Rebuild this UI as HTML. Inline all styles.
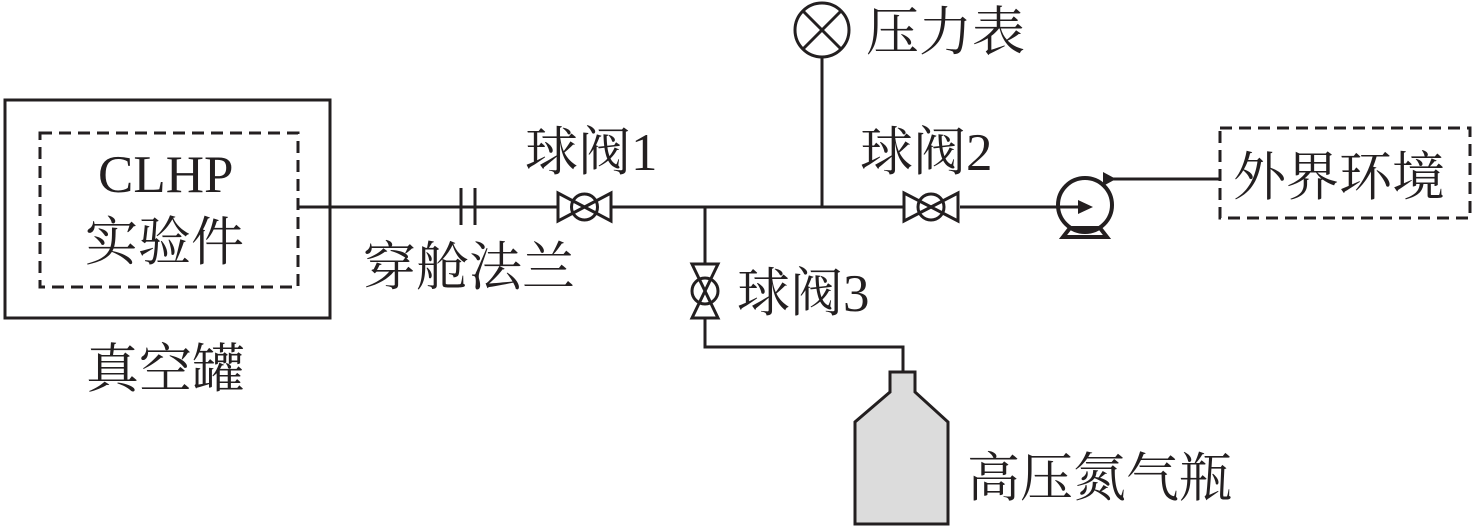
<!DOCTYPE html>
<html><head><meta charset="utf-8"><style>
body{margin:0;background:#fff;}
svg{display:block}
text{font-family:"Liberation Serif","Noto Serif CJK SC",serif;font-size:53px;fill:#231f20}
</style></head><body>
<svg width="1476" height="527" viewBox="0 0 1476 527" xmlns="http://www.w3.org/2000/svg">
<g stroke="#231f20" stroke-width="3" fill="none">
<rect x="5" y="100" width="325" height="218"/>
<rect x="40" y="133" width="258" height="154" stroke-dasharray="12,7"/>
<rect x="1220" y="128" width="250" height="90" stroke-dasharray="12,7"/>
<line x1="298" y1="207" x2="557" y2="207"/>
<line x1="612" y1="207" x2="903" y2="207"/>
<line x1="960" y1="207" x2="1058" y2="207"/>
<line x1="461" y1="188" x2="461" y2="225"/>
<line x1="475" y1="188" x2="475" y2="225"/>
<path d="M558 193 L558 221 L611 193 L611 221 Z"/>
<circle cx="584.5" cy="207" r="13"/>
<path d="M904 193 L904 221 L958 193 L958 221 Z"/>
<circle cx="931" cy="207" r="13"/>
<circle cx="822" cy="30" r="27"/>
<line x1="803" y1="11" x2="841" y2="49"/>
<line x1="841" y1="11" x2="803" y2="49"/>
<line x1="822" y1="57" x2="822" y2="207"/>
<line x1="705" y1="207" x2="705" y2="264"/>
<path d="M692 264 L718 264 L692 318 L718 318 Z"/>
<circle cx="705" cy="291" r="13"/>
<polyline points="705,318 705,347 903,347 903,372"/>
<path d="M890 372 L915 372 L915 392 L948 422 L948 524 L855 524 L855 422 L890 392 Z" fill="#dcdcdc"/>
<g stroke-width="4">
<circle cx="1085" cy="205" r="27"/>
<path d="M1063 237 L1107 237 L1100 228 L1070 228 Z"/>
</g>
<line x1="1058" y1="207" x2="1080" y2="207"/>
<line x1="1110" y1="179" x2="1220" y2="179"/>
</g>
<path d="M1093 207 L1078 200 L1078 214 Z" fill="#231f20"/>
<path d="M1116 179 L1103 172 L1103 186 Z" fill="#231f20"/>
<text x="866" y="50">压力表</text>
<text x="525" y="170">球阀1</text>
<text x="860" y="170">球阀2</text>
<text x="737" y="311">球阀3</text>
<text x="363" y="285">穿舱法兰</text>
<text x="86" y="387">真空罐</text>
<text x="98" y="192">CLHP</text>
<text x="85" y="260">实验件</text>
<text x="967" y="496">高压氮气瓶</text>
<text x="1233" y="195">外界环境</text>
</svg>
</body></html>
